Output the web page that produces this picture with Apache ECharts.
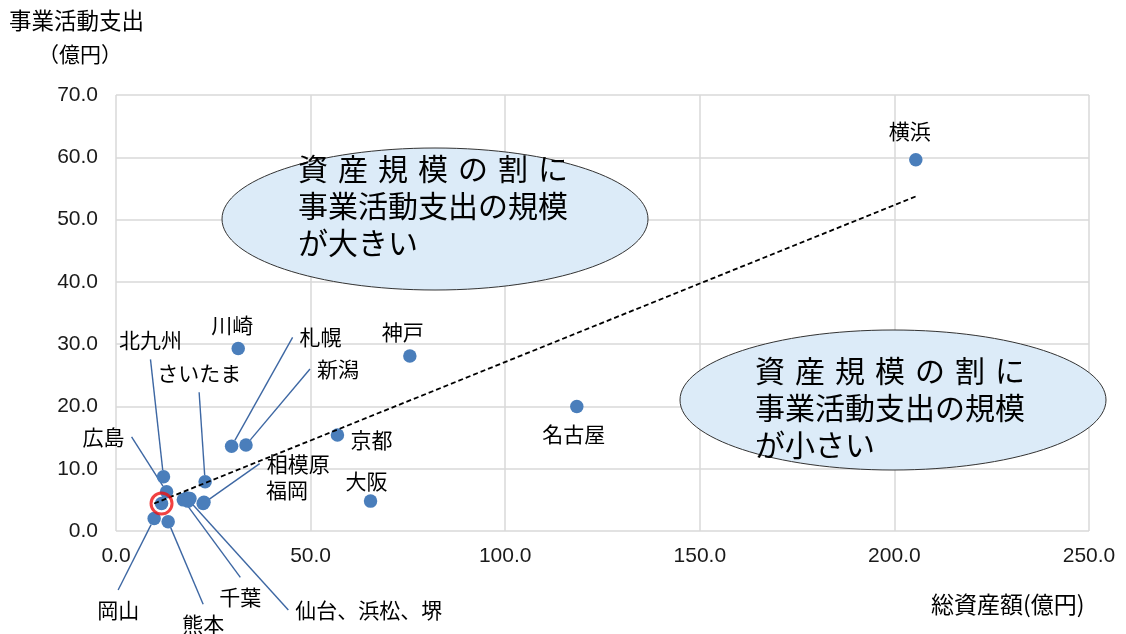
<!DOCTYPE html>
<html lang="ja">
<head>
<meta charset="utf-8">
<title>総資産額と事業活動支出</title>
<script src="https://cdn.jsdelivr.net/npm/echarts@6/dist/echarts.min.js"></script>
<style>
  html, body { margin: 0; padding: 0; background: #fff; }
  #chart { width: 1126px; height: 634px; }
</style>
</head>
<body>
<div id="chart"></div>
<script>
// Cities and their values (億円)
const cities = ['横浜', '名古屋', '神戸', '川崎', '京都', '大阪', '札幌', '新潟', 'さいたま', '北九州',
                '広島', '静岡', '千葉', '仙台', '浜松', '堺', '相模原', '福岡', '岡山', '熊本'];
const totalAssets = [205.5, 118.4, 75.5, 31.4, 56.9, 65.4, 29.7, 33.4, 22.9, 12.2,
                     13.0, 11.7, 17.3, 18.2, 19.0, 18.5, 22.4, 22.6, 9.8, 13.4];
const activityExpense = [59.6, 20.0, 28.1, 29.3, 15.4, 4.8, 13.6, 13.8, 7.9, 8.7,
                         6.3, 4.4, 5.0, 5.3, 5.2, 4.8, 4.4, 4.6, 2.0, 1.5];

// Axis ranges and tick steps
const xTicks = { min: 0, max: 250, interval: 50 };
const yTicks = { min: 0, max: 70, interval: 10 };

// City highlighted with a red ring
const highlightCity = '静岡';

// Label text shown next to a city (cities absent here are unlabeled)
const labelText = {
  '横浜': '横浜', '名古屋': '名古屋', '神戸': '神戸', '川崎': '川崎', '京都': '京都', '大阪': '大阪',
  '札幌': '札幌', '新潟': '新潟', 'さいたま': 'さいたま', '北九州': '北九州', '広島': '広島',
  '千葉': '千葉', '仙台': '仙台、浜松、堺', '相模原': '相模原', '福岡': '福岡', '岡山': '岡山', '熊本': '熊本'
};

// Label offsets from the marker (px) and whether a leader line is drawn
const labelPlacement = {
  '横浜': { dx: -6, dy: -29 },
  '名古屋': { dx: -3, dy: 28 },
  '神戸': { dx: -7, dy: -24 },
  '川崎': { dx: -6, dy: -23 },
  '京都': { dx: 34, dy: 5 },
  '大阪': { dx: -4, dy: -20 },
  '北九州': { dx: -13, dy: -137, leader: true },
  '広島': { dx: -63, dy: -55, leader: true },
  'さいたま': { dx: -6, dy: -109, leader: true },
  '札幌': { dx: 89, dy: -109, leader: true },
  '新潟': { dx: 92, dy: -76, leader: true },
  '相模原': { dx: 95, dy: -40, leader: true },
  '福岡': { dx: 83, dy: -12 },
  '岡山': { dx: -36, dy: 91, leader: true },
  '熊本': { dx: 35, dy: 102, leader: true },
  '千葉': { dx: 57, dy: 97, leader: true },
  '仙台': { dx: 182, dy: 112, leader: true }
};

// Annotation wording inside the two ellipses
const SP = '\u2004';
const noteUpper = ['資', '産', '規', '模', 'の', '割', 'に'].join(SP) + '\n事業活動支出の規模\nが大きい';
const noteLower = ['資', '産', '規', '模', 'の', '割', 'に'].join(SP) + '\n事業活動支出の規模\nが小さい';

// Least-squares trend line across all cities
function trendLine(xs, ys) {
  const n = xs.length;
  const mx = xs.reduce((a, b) => a + b, 0) / n;
  const my = ys.reduce((a, b) => a + b, 0) / n;
  let sxy = 0, sxx = 0;
  for (let i = 0; i < n; i++) {
    sxy += (xs[i] - mx) * (ys[i] - my);
    sxx += (xs[i] - mx) * (xs[i] - mx);
  }
  const slope = sxy / sxx;
  const icpt = my - slope * mx;
  const x0 = Math.min(...xs), x1 = Math.max(...xs);
  return [[x0, icpt + slope * x0], [x1, icpt + slope * x1]];
}

const FONT = '"Liberation Sans", Arial, "Noto Sans CJK JP", sans-serif';
const CJK = '"Noto Sans CJK JP", sans-serif';
const MARKER = '#4a7ebb';
const LEADER = '#3d67a3';

const pointData = cities.map((c, i) => {
  const p = labelPlacement[c];
  const hasLabel = labelText[c] != null;
  const leader = !!(p && p.leader);
  return {
    name: c,
    value: [totalAssets[i], activityExpense[i]],
    label: {
      show: hasLabel,
      formatter: hasLabel ? labelText[c] : '',
      // transparent box keeps leader lines a little away from the text
      padding: leader ? [9, 7, 9, 7] : 0,
      backgroundColor: leader ? 'rgba(255,255,255,0)' : 'transparent'
    },
    labelLine: { show: leader }
  };
});

const hi = cities.indexOf(highlightCity);

const chart = echarts.init(document.getElementById('chart'), null, { renderer: 'canvas' });

chart.setOption({
  animation: false,
  backgroundColor: '#ffffff',
  textStyle: { fontFamily: FONT },
  grid: { left: 116, right: 37, top: 95, bottom: 103, containLabel: false },
  xAxis: {
    type: 'value',
    min: xTicks.min, max: xTicks.max, interval: xTicks.interval,
    axisLine: { show: false },
    axisTick: { show: false },
    axisLabel: {
      margin: 15, fontSize: 21, color: '#1a1a1a', fontFamily: FONT,
      formatter: v => v.toFixed(1)
    },
    splitLine: { show: true, lineStyle: { color: '#d9d9d9', width: 1.5 } }
  },
  yAxis: {
    type: 'value',
    min: yTicks.min, max: yTicks.max, interval: yTicks.interval,
    axisLine: { show: false },
    axisTick: { show: false },
    axisLabel: {
      margin: 18, fontSize: 21, color: '#1a1a1a', fontFamily: FONT,
      formatter: v => v.toFixed(1)
    },
    splitLine: { show: true, lineStyle: { color: '#d9d9d9', width: 1.5 } }
  },
  graphic: [
    {
      type: 'text', left: 9, top: 9, z: 10,
      style: { text: '事業活動支出', font: '22.5px ' + CJK, fill: '#000' }
    },
    {
      type: 'text', left: 38, top: 44, z: 10,
      style: { text: '（億円）', font: '21px ' + CJK, fill: '#000' }
    },
    {
      type: 'text', left: 931, top: 593, z: 10,
      style: { text: '総資産額(億円)', font: '23px ' + CJK, fill: '#000' }
    },
    {
      type: 'ellipse', z: 5,
      shape: { cx: 435, cy: 219, rx: 213, ry: 71 },
      style: { fill: '#dcebf8', stroke: '#333333', lineWidth: 1 }
    },
    {
      type: 'text', x: 298, y: 153, z: 6,
      style: {
        text: noteUpper,
        font: '30px "Liberation Sans", "Noto Sans CJK JP", sans-serif', lineHeight: 37,
        fill: '#000', textAlign: 'left', textVerticalAlign: 'top'
      }
    },
    {
      type: 'ellipse', z: 5,
      shape: { cx: 893, cy: 400, rx: 213, ry: 70 },
      style: { fill: '#dcebf8', stroke: '#333333', lineWidth: 1 }
    },
    {
      type: 'text', x: 755, y: 355, z: 6,
      style: {
        text: noteLower,
        font: '30px "Liberation Sans", "Noto Sans CJK JP", sans-serif', lineHeight: 37,
        fill: '#000', textAlign: 'left', textVerticalAlign: 'top'
      }
    }
  ],
  series: [
    {
      name: '政令市',
      type: 'scatter',
      symbol: 'circle',
      symbolSize: 13.5,
      z: 3,
      itemStyle: { color: MARKER, opacity: 1 },
      label: {
        position: 'inside',
        align: 'center',
        verticalAlign: 'middle',
        fontSize: 21,
        color: '#000',
        fontFamily: CJK
      },
      labelLine: {
        lineStyle: { color: LEADER, width: 1.4 }
      },
      labelLayout: function (params) {
        const p = labelPlacement[cities[params.dataIndex]];
        return p ? { dx: p.dx, dy: p.dy } : {};
      },
      emphasis: { disabled: true },
      data: pointData
    },
    {
      name: '近似直線',
      type: 'line',
      z: 4,
      symbol: 'none',
      lineStyle: { color: '#000', width: 1.8, type: [5, 3] },
      emphasis: { disabled: true },
      data: trendLine(totalAssets, activityExpense)
    },
    {
      name: highlightCity,
      type: 'scatter',
      z: 5,
      symbol: 'circle',
      symbolSize: 21,
      itemStyle: { color: 'rgba(0,0,0,0)', borderColor: '#ee1111', borderWidth: 3 },
      emphasis: { disabled: true },
      data: [[totalAssets[hi], activityExpense[hi]]]
    }
  ]
});
</script>
</body>
</html>
